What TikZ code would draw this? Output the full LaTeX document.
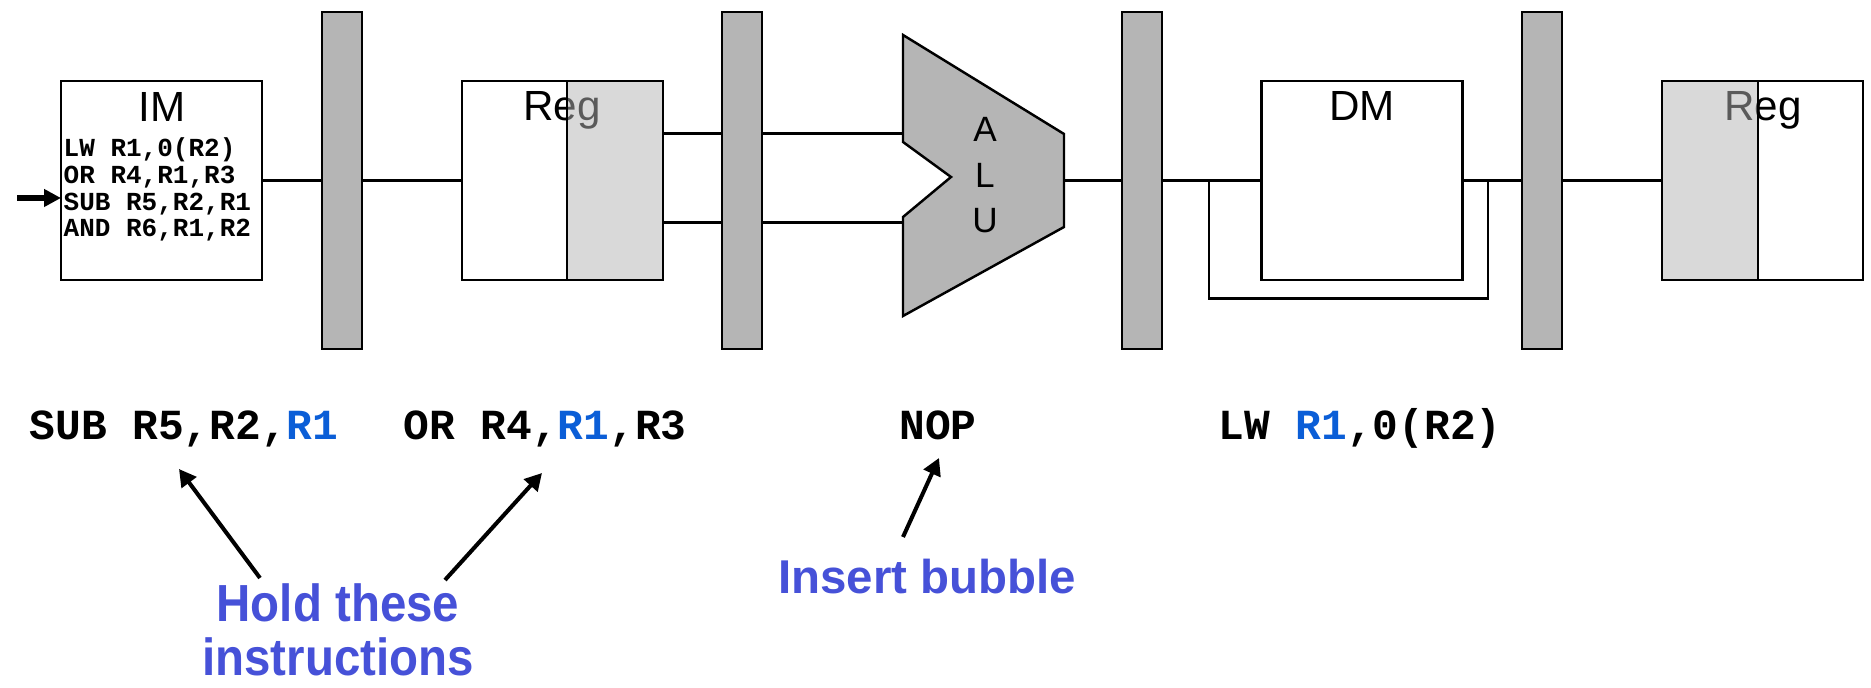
\documentclass[tikz,border=0pt]{standalone}
\usepackage{fontspec}
\setmainfont{Liberation Sans}
\newfontfamily\codefont{Liberation Mono}
\usetikzlibrary{arrows.meta}
\definecolor{bargray}{RGB}{181,181,181}
\definecolor{hazard}{RGB}{11,94,215}
\definecolor{notecolor}{RGB}{70,81,216}

\begin{document}
\begin{tikzpicture}[
  unit/.style={draw,fill=white,line width=0.7pt,minimum width=2.01cm,minimum height=1.99cm,inner sep=0,outer sep=0},
  latch/.style={draw,fill=bargray,line width=0.8pt,minimum width=0.40cm,minimum height=3.37cm,inner sep=0,outer sep=0},
  regshade/.style={draw,fill=bargray,fill opacity=0.5,line width=0.7pt},
  wire/.style={line width=0.6pt},
  title/.style={font=\fontsize{12}{14}\selectfont,anchor=base,inner sep=0},
  listing/.style={font=\codefont\bfseries\fontsize{7.4}{8}\selectfont,anchor=base west,inner sep=0},
  instr/.style={font=\codefont\bfseries\fontsize{12.2}{14}\selectfont,anchor=base,inner sep=0},
  note/.style={font=\bfseries\fontsize{13.5}{15.1}\selectfont,text=notecolor,align=center,inner sep=0},
  pointer/.style={-{Triangle[length=0.17cm,width=0.18cm]},line width=1.15pt},
  feed/.style={-{Triangle[length=0.17cm,width=0.17cm]},line width=1.5pt}]
\useasboundingbox (0,0) rectangle (18.71,-6.88);
\node[unit] (im) at (1.615,-1.805) {};
\node[title] (imt) at (1.62,-1.215) {IM};
\node[listing] (im1) at (0.63,-1.567) {LW R1,0(R2)};
\node[listing] (im2) at (0.63,-1.834) {OR R4,R1,R3};
\node[listing] (im3) at (0.63,-2.101) {SUB R5,R2,R1};
\node[listing] (im4) at (0.63,-2.368) {AND R6,R1,R2};
\coordinate (pc) at (0.17,-1.98);
\draw[feed] (pc) -- (pc -| im.west);
\node[latch] (b1) at (3.42,-1.805) {};
\node[latch] (b2) at (7.42,-1.805) {};
\node[latch] (b3) at (11.42,-1.805) {};
\node[latch] (b4) at (15.42,-1.805) {};
\node[unit] (rf1) at (5.625,-1.805) {};
\node[title] (rf1t) at (5.62,-1.21) {Reg};
\draw[regshade] ([xshift=-0.96cm]rf1.north east) rectangle (rf1.south east);
\coordinate (aluA) at (9.03,-1.335);
\coordinate (aluB) at (9.03,-2.225);
\draw[fill=bargray,line width=0.7pt] (9.03,-0.35) -- (10.64,-1.34) -- (10.64,-2.27) -- (9.03,-3.16) -- (9.03,-2.17) -- (9.51,-1.77) -- (9.03,-1.42) -- cycle;
\node[font=\fontsize{10}{12.9}\selectfont,align=center,anchor=north,inner sep=0] (alut) at (9.85,-1.17) {A\\L\\U};
\coordinate (aluY) at (10.64,-1.805);
\node[unit] (dm) at (13.62,-1.805) {};
\node[title] (dmt) at (13.62,-1.21) {DM};
\node[unit] (rf2) at (17.625,-1.805) {};
\node[title] (rf2t) at (17.63,-1.21) {Reg};
\draw[regshade] (rf2.north west) rectangle ([xshift=0.96cm]rf2.south west);
\draw[wire] (im) -- (b1);
\draw[wire] (b1) -- (rf1);
\draw[wire] (rf1.east |- aluA) -- (b2.west |- aluA);
\draw[wire] (rf1.east |- aluB) -- (b2.west |- aluB);
\draw[wire] (b2.east |- aluA) -- (aluA);
\draw[wire] (b2.east |- aluB) -- (aluB);
\draw[wire] (aluY) -- (b3);
\draw[wire] (b3) -- (dm);
\draw[wire] (dm) -- (b4);
\coordinate (tapin) at (12.09,-1.805);
\coordinate (tapout) at (14.88,-1.805);
\draw[wire] (tapin) -- ++(0,-1.18) -| (tapout);
\draw[wire] (b4) -- (rf2);
\node[instr] (sub) at (1.84,-4.40) {SUB R5,R2,\textcolor{hazard}{R1}};
\node[instr] (or) at (5.45,-4.40) {OR R4,\textcolor{hazard}{R1},R3};
\node[instr] (nop) at (9.38,-4.40) {NOP};
\node[instr] (lw) at (13.60,-4.40) {LW \textcolor{hazard}{R1},0(R2)};
\node[note,font=\bfseries\fontsize{13.5}{13.8}\selectfont,yscale=1.1,transform shape] (hold) at (3.38,-6.30) {Hold these\\instructions};
\node[note,anchor=base] (bubble) at (9.27,-5.94) {Insert bubble};
\coordinate (h1) at (2.60,-5.78);
\coordinate (t1) at (1.79,-4.69);
\coordinate (h2) at (4.45,-5.80);
\coordinate (t2) at (5.42,-4.73);
\coordinate (h3) at (9.03,-5.37);
\coordinate (t3) at (9.39,-4.58);
\draw[pointer] (h1) -- (t1);
\draw[pointer] (h2) -- (t2);
\draw[pointer] (h3) -- (t3);
\end{tikzpicture}
\end{document}
